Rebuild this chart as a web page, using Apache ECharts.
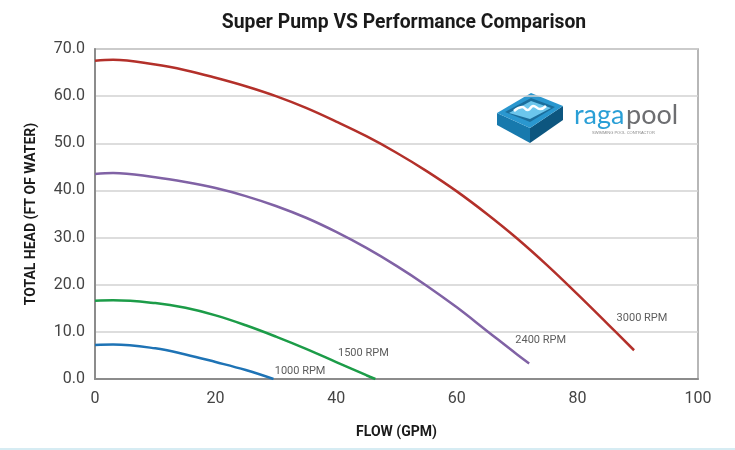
<!DOCTYPE html>
<html>
<head>
<meta charset="utf-8">
<script src="https://cdn.jsdelivr.net/npm/echarts@6/dist/echarts.min.js"></script>
<style>
html,body{margin:0;padding:0;background:#fff;}
#chart{width:735px;height:450px;}
</style>
</head>
<body>
<div id="chart"></div>
<script>
// ---- data ----
const titleText = "Super Pump VS Performance Comparison";
const xAxisName = "FLOW (GPM)";
const yAxisName = "TOTAL HEAD (FT OF WATER)";
const xTicks = [0, 20, 40, 60, 80, 100];
const yTicks = [0, 10, 20, 30, 40, 50, 60, 70];

const rpm3000 = [[0,67.5],[3,67.7],[10,66.7],[15,65.5],[20,63.9],[25,62.1],[30,60.0],[35,57.5],[40,54.6],[45,51.5],[50,48.0],[55,44.1],[60,39.8],[65,35.0],[70,29.8],[75,24.1],[80,18.0],[85,11.7],[89.4,6.1]];
const rpm2400 = [[0,43.5],[3,43.7],[10,42.8],[15,41.8],[20,40.5],[25,38.8],[30,36.7],[35,34.2],[40,31.2],[45,27.8],[50,24.0],[55,19.8],[60,15.2],[65,10.2],[70,5.2],[72,3.3]];
const rpm1500 = [[0,16.6],[3,16.7],[10,16.1],[15,15.1],[20,13.5],[25,11.4],[30,9.0],[35,6.4],[40,3.6],[45,0.8],[46.5,0]];
const rpm1000 = [[0,7.2],[3,7.3],[10,6.5],[15,5.2],[20,3.6],[25,1.9],[29.6,0]];

const seriesNames = ["3000 RPM", "2400 RPM", "1500 RPM", "1000 RPM"];
const seriesData = [rpm3000, rpm2400, rpm1500, rpm1000];
const seriesColors = ["#b3302a", "#8062a5", "#1c9c48", "#1e73b5"];

// curve label anchor points (data coordinates)
const labelTexts = ["3000 RPM", "2400 RPM", "1500 RPM", "1000 RPM"];
const labelCoords = [[86.5, 12.8], [69.7, 8.2], [40.3, 5.5], [29.8, 1.6]];

const chart = echarts.init(document.getElementById('chart'), null, {renderer: 'canvas'});
const font = 'Roboto, "Liberation Sans", Arial, sans-serif';

const option = {
  backgroundColor: '#fff',
  animation: false,
  grid: {left: 95, right: 37, top: 49, bottom: 71, show: true, borderColor: '#a0a0a0', borderWidth: 1.5},
  xAxis: {
    type: 'value', min: 0, max: 100, interval: 20,
    name: xAxisName, nameLocation: 'middle', nameGap: 46,
    nameTextStyle: {fontFamily: font, fontWeight: 'bold', fontSize: 14, color: '#1a1a1a'},
    axisLine: {show: true, lineStyle: {color: '#8c8c8c', width: 2}},
    axisTick: {show: false},
    axisLabel: {fontFamily: font, fontSize: 16, color: '#444', margin: 12},
    splitLine: {show: false}
  },
  yAxis: {
    type: 'value', min: 0, max: 70, interval: 10,
    name: yAxisName, nameLocation: 'middle', nameGap: 57, nameRotate: 90,
    nameTextStyle: {fontFamily: font, fontWeight: 'bold', fontSize: 14, color: '#1a1a1a'},
    axisLine: {show: true, lineStyle: {color: '#8c8c8c', width: 2}},
    axisTick: {show: false},
    axisLabel: {fontFamily: font, fontSize: 16, color: '#444', margin: 10, formatter: v => v.toFixed(1)},
    splitLine: {show: true, lineStyle: {color: '#d2d2d2', width: 1.5}}
  },
  series: seriesData.map((d, i) => ({
    name: seriesNames[i], type: 'line', data: d, smooth: 0.4,
    showSymbol: false, symbol: 'none',
    lineStyle: {color: seriesColors[i], width: 2.5},
    z: 3
  })).concat([{
    type: 'scatter', symbolSize: 0, silent: true,
    data: labelCoords.map((c, i) => ({value: c, label: {show: true, formatter: labelTexts[i], position: 'right', distance: 0,
      fontFamily: font, fontSize: 11, color: '#333'}}))
  }]),
  graphic: [
    // title (condensed via horizontal scale)
    {type: 'text', x: 404, y: 23, scaleX: 0.92, style: {text: titleText, fontFamily: font, fontWeight: 'bold', fontSize: 21, fill: '#1a1a1a', textAlign: 'center', textVerticalAlign: 'middle'}},
    // logo icon (isometric box)
    {type: 'polygon', shape: {points: [[497,113],[530,128],[530,143],[497,125]]}, style: {fill: '#1779ad'}},
    {type: 'polygon', shape: {points: [[530,128],[563,106],[563,120],[530,143]]}, style: {fill: '#0d567f'}},
    {type: 'polygon', shape: {points: [[497,113],[531,93],[563,106],[530,128]]}, style: {fill: '#2a97cf'}},
    {type: 'polygon', shape: {points: [[505,112],[531,98],[555,107],[530,122]]}, style: {fill: '#1b6e9c'}},
    {type: 'polygon', shape: {points: [[509,113],[531,101],[551,108],[530,119]]}, style: {fill: '#6cc6ec'}},
    {type: 'polyline', shape: {points: [[514,111],[522,107],[528,110],[533,106],[540,109],[546,106]], smooth: 0.5}, style: {stroke: '#ffffff', lineWidth: 2.5, fill: null}},
    {type: 'text', left: 574, top: 102, style: {text: 'raga', fontFamily: 'Lato, "Open Sans", sans-serif', fontSize: 27, fill: '#2a9fd6'}},
    {type: 'text', left: 626, top: 102, style: {text: 'pool', fontFamily: 'Lato, "Open Sans", sans-serif', fontSize: 27, fill: '#6d6e71'}},
    {type: 'text', left: 592, top: 131, style: {text: 'SWIMMING POOL CONTRACTOR', fontFamily: 'Arial, sans-serif', fontSize: 4, fill: '#888'}},
    // bottom light strip
    {type: 'rect', shape: {x: 0, y: 448, width: 735, height: 2}, style: {fill: '#d6ecf3'}}
  ]
};
chart.setOption(option);
</script>
</body>
</html>
